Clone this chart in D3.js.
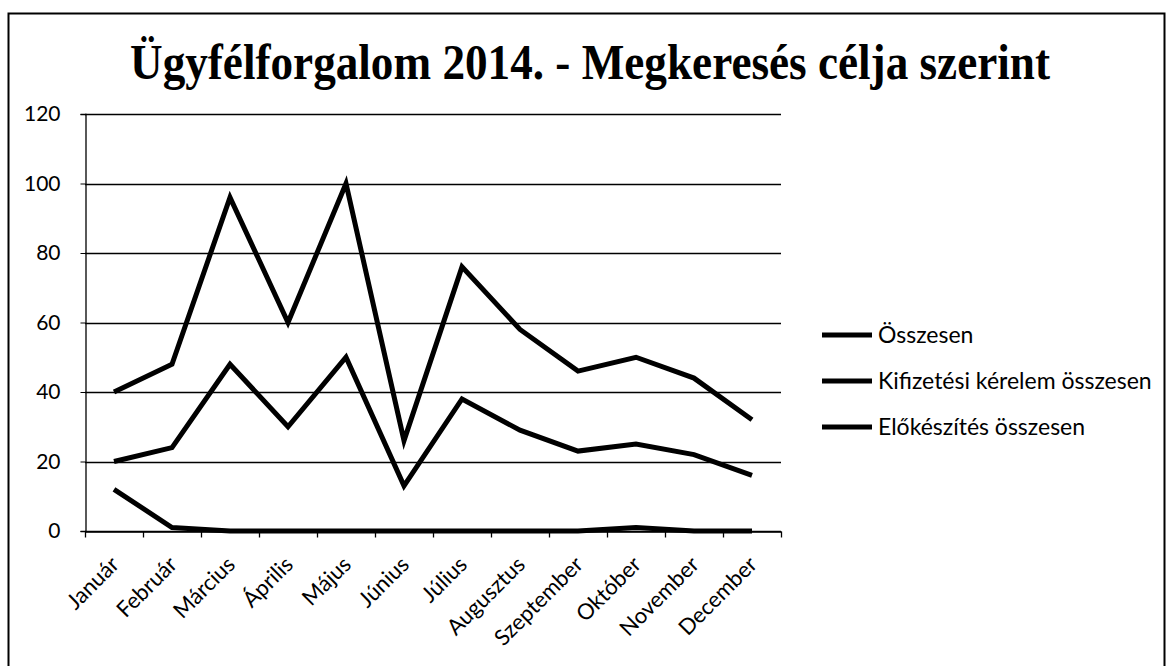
<!DOCTYPE html>
<meta charset="utf-8">
<html>
<head>
    <title>Ügyfélforgalom 2014</title>
    <script src="https://cdn.jsdelivr.net/npm/d3@7"></script>
</head>
<style>
    body{
        margin: 0;
        background: white;
    }
    svg{
        width: 1168px;
        height: 666px;
        display: block;
    }
    .title{
        font-family: "Liberation Serif", serif;
        font-weight: bold;
        font-size: 50px;
    }
    .tick text, .legend text{
        font-family: Lato, sans-serif;
        fill: black;
    }
</style>
<body>
<svg></svg>
<script>
    const months = ["Január","Február","Március","Április","Május","Június","Július","Augusztus","Szeptember","Október","November","December"];
    const osszesen = [40,48,96,60,100,26,76,58,46,50,44,32];
    const kifizetesi = [20,24,48,30,50,13,38,29,23,25,22,16];
    const elokeszites = [12,1,0,0,0,0,0,0,0,1,0,0];
    const seriesNames = ["Összesen","Kifizetési kérelem összesen","Előkészítés összesen"];
    const yTicks = [0,20,40,60,80,100,120];

    const series = [osszesen, kifizetesi, elokeszites];
    const svg = d3.select("svg");

    // frame
    svg.append("rect")
        .attr("x", 8.5).attr("y", 13.5)
        .attr("width", 1156).attr("height", 700)
        .attr("fill", "none").attr("stroke", "black").attr("stroke-width", 2);

    svg.append("text")
        .attr("class", "title")
        .attr("x", 590).attr("y", 79)
        .attr("text-anchor", "middle")
        .attr("textLength", 920)
        .attr("lengthAdjust", "spacingAndGlyphs")
        .text("Ügyfélforgalom 2014. - Megkeresés célja szerint");

    const x = d3.scaleBand().domain(months).range([85, 781]);
    const y = d3.scaleLinear().domain([0, 120]).range([531, 114]);

    // gridlines
    svg.append("g")
        .selectAll("line")
        .data(yTicks)
        .join("line")
        .attr("x1", 85).attr("x2", 781)
        .attr("y1", d => Math.round(y(d)) + 0.5)
        .attr("y2", d => Math.round(y(d)) + 0.5)
        .attr("stroke", "black").attr("stroke-width", 1.3);

    // y axis
    const yAxis = svg.append("g")
        .attr("transform", "translate(85.5,0)")
        .call(d3.axisLeft(y).tickValues(yTicks).tickSize(5).tickPadding(20));
    yAxis.select(".domain").attr("stroke-width", 1.3);
    yAxis.selectAll(".tick text").style("font-size", "21px");

    // x axis
    const xAxis = svg.append("g")
        .attr("transform", "translate(0,531.5)")
        .call(d3.axisBottom(x).tickSize(0).tickSizeOuter(0));
    xAxis.select(".domain").attr("stroke-width", 1.3);
    xAxis.selectAll(".tick line").remove();
    xAxis.selectAll(".tick text")
        .style("font-size", "22px")
        .attr("text-anchor", "end")
        .attr("y", 0)
        .attr("dy", "0.35em")
        .attr("transform", "translate(1,29) rotate(-45)");
    // band boundary ticks
    xAxis.append("g")
        .selectAll("line")
        .data(d3.range(months.length + 1))
        .join("line")
        .attr("x1", i => 85.5 + i * x.step())
        .attr("x2", i => 85.5 + i * x.step())
        .attr("y1", 0).attr("y2", 6)
        .attr("stroke", "black").attr("stroke-width", 1.3);

    const line = d3.line()
        .x((d, i) => x(months[i]) + x.bandwidth() / 2)
        .y(d => y(d));

    svg.append("g")
        .selectAll("path")
        .data(series)
        .join("path")
        .attr("d", line)
        .attr("fill", "none")
        .attr("stroke", "black")
        .attr("stroke-width", 5)
        .attr("stroke-linejoin", "miter");

    // legend
    const legend = svg.append("g")
        .attr("class", "legend")
        .selectAll("g")
        .data(seriesNames)
        .join("g")
        .attr("transform", (d, i) => `translate(822,${335 + i * 46})`);
    legend.append("line")
        .attr("x1", 0).attr("x2", 50)
        .attr("stroke", "black").attr("stroke-width", 5);
    legend.append("text")
        .attr("x", 56).attr("y", 8)
        .style("font-size", "23px")
        .text(d => d);
</script>
</body>
</html>
